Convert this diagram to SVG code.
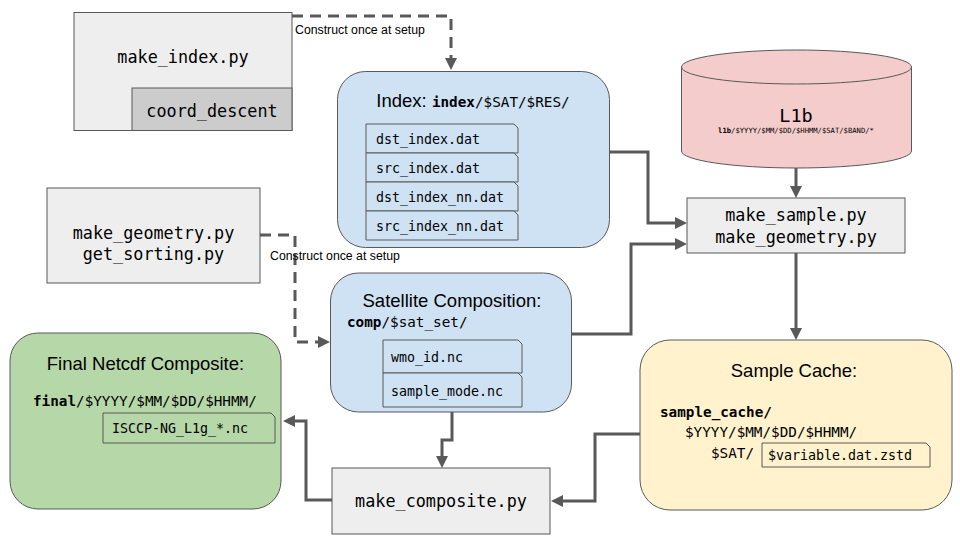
<svg xmlns="http://www.w3.org/2000/svg" width="960" height="540" viewBox="0 0 960 540">
<defs>
<style>
.box{fill:#eeeeee;stroke:#595959;stroke-width:1}
.inner{fill:#cccccc;stroke:#595959;stroke-width:1}
.blue{fill:#cfe2f3;stroke:#595959;stroke-width:1}
.green{fill:#b6d7a8;stroke:#595959;stroke-width:1}
.yellow{fill:#fff2cc;stroke:#595959;stroke-width:1}
.pink{fill:#f4cccc;stroke:#595959;stroke-width:1}
.tab{stroke:#595959;stroke-width:1}
.mono{font-family:"DejaVu Sans Mono","Liberation Mono",monospace;fill:#000}
.sans{font-family:"Liberation Sans",Arial,sans-serif;fill:#000}
.big{font-size:16.8px}
.mid{font-size:14.3px}
.sm{font-size:13.3px}
.b{font-weight:bold}
.conn{fill:none;stroke:#595959;stroke-width:3}
.dash{stroke-dasharray:11 7}
</style>
<marker id="arr" markerUnits="userSpaceOnUse" markerWidth="12" markerHeight="12" refX="2" refY="6" orient="auto">
<path d="M0,0 L12,6 L0,12 Z" fill="#595959"/>
</marker>
</defs>
<rect width="960" height="540" fill="#ffffff"/>

<g id="connectors">
<path class="conn dash" d="M292,16 H451 V60" marker-end="url(#arr)"/>
<path class="conn dash" d="M260,235 H295 V342 H320" marker-end="url(#arr)"/>
<path class="conn" d="M610,152 H648 V223 H677" marker-end="url(#arr)"/>
<path class="conn" d="M572,334 H631 V244 H677" marker-end="url(#arr)"/>
<path class="conn" d="M796,168 V188" marker-end="url(#arr)"/>
<path class="conn" d="M796,253 V330" marker-end="url(#arr)"/>
<path class="conn" d="M640,434 H595 V501 H561" marker-end="url(#arr)"/>
<path class="conn" d="M452,412 V440 H442 V458" marker-end="url(#arr)"/>
<path class="conn" d="M332,500 H306 V421 H293" marker-end="url(#arr)"/>
<text class="sans" x="295" y="34" font-size="12.3">Construct once at setup</text>
<text class="sans" x="270" y="260" font-size="12.3">Construct once at setup</text>
</g>

<g id="make_index">
<rect class="box" x="74" y="12.5" width="218" height="118"/>
<text class="mono big" x="183" y="63" text-anchor="middle">make_index.py</text>
</g>
<g id="coord_descent">
<rect class="inner" x="132" y="88" width="160" height="42.5"/>
<text class="mono big" x="212" y="117" text-anchor="middle">coord_descent</text>
</g>

<g id="index">
<rect class="blue" x="337.5" y="71.5" width="272" height="176" rx="28"/>
<text x="473" y="107" text-anchor="middle"><tspan class="sans" font-size="18.5">Index: </tspan><tspan class="mono mid b">index</tspan><tspan class="mono mid">/$SAT/$RES/</tspan></text>
<path class="blue tab" d="M366,124 H514 L518,128 V153 H366 Z"/>
<path class="blue tab" d="M366,153 H514 L518,157 V182 H366 Z"/>
<path class="blue tab" d="M366,182 H514 L518,186 V211 H366 Z"/>
<path class="blue tab" d="M366,211 H514 L518,215 V240 H366 Z"/>
<text class="mono sm" x="376" y="143.5">dst_index.dat</text>
<text class="mono sm" x="376" y="172.5">src_index.dat</text>
<text class="mono sm" x="376" y="201.5">dst_index_nn.dat</text>
<text class="mono sm" x="376" y="230.5">src_index_nn.dat</text>
</g>

<g id="l1b">
<path class="pink" d="M681.5,67 A115,17 0 0 1 911.5,67 V151 A115,17 0 0 1 681.5,151 Z"/>
<path fill="none" stroke="#595959" stroke-width="1" d="M681.5,67 A115,17 0 0 0 911.5,67"/>
<text class="mono" x="796" y="122" text-anchor="middle" font-size="18.5">L1b</text>
<text x="796" y="133" text-anchor="middle"><tspan class="mono b" font-size="7.2">l1b</tspan><tspan class="mono" font-size="7.2">/$YYYY/$MM/$DD/$HHMM/$SAT/$BAND/*</tspan></text>
</g>

<g id="make_sample">
<rect class="box" x="687" y="198" width="218" height="55"/>
<text class="mono big" x="796" y="221" text-anchor="middle">make_sample.py</text>
<text class="mono big" x="796" y="243" text-anchor="middle">make_geometry.py</text>
</g>

<g id="make_geometry">
<rect class="box" x="47" y="188" width="213" height="95"/>
<text class="mono big" x="153.5" y="239" text-anchor="middle">make_geometry.py</text>
<text class="mono big" x="153.5" y="260" text-anchor="middle">get_sorting.py</text>
</g>

<g id="satellite">
<rect class="blue" x="330.5" y="273" width="241" height="139" rx="28"/>
<text class="sans" x="452" y="307" text-anchor="middle" font-size="18.5">Satellite Composition:</text>
<text x="347" y="327"><tspan class="mono mid b">comp</tspan><tspan class="mono mid">/$sat_set/</tspan></text>
<path class="blue tab" d="M383,340 H518 L522,344 V373 H383 Z"/>
<path class="blue tab" d="M383,373 H518 L522,377 V407 H383 Z"/>
<text class="mono sm" x="391" y="362">wmo_id.nc</text>
<text class="mono sm" x="391" y="396">sample_mode.nc</text>
</g>

<g id="final">
<rect class="green" x="10" y="333" width="271" height="176" rx="28"/>
<text class="sans" x="145.5" y="370" text-anchor="middle" font-size="18.5">Final Netcdf Composite:</text>
<text x="33" y="406"><tspan class="mono mid b">final</tspan><tspan class="mono mid">/$YYYY/$MM/$DD/$HHMM/</tspan></text>
<path class="green tab" d="M103,413 H271 L275,417 V443 H103 Z"/>
<text class="mono sm" x="112" y="433">ISCCP-NG_L1g_*.nc</text>
</g>

<g id="sample_cache">
<rect class="yellow" x="640" y="340" width="312" height="170" rx="30"/>
<text class="sans" x="794" y="377" text-anchor="middle" font-size="18.5">Sample Cache:</text>
<text class="mono mid b" x="660" y="417">sample_cache/</text>
<text class="mono mid" x="685" y="437">$YYYY/$MM/$DD/$HHMM/</text>
<text class="mono mid" x="711" y="458">$SAT/</text>
<path class="yellow tab" d="M762,443 H926 L930,447 V467 H762 Z"/>
<text class="mono sm" x="768" y="460">$variable.dat.zstd</text>
</g>

<g id="make_composite">
<rect class="box" x="332" y="468" width="218" height="66"/>
<text class="mono big" x="441" y="507" text-anchor="middle">make_composite.py</text>
</g>
</svg>
